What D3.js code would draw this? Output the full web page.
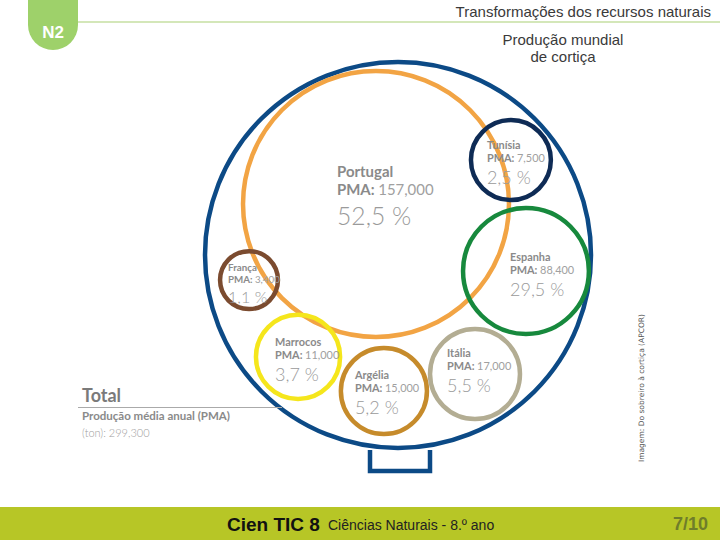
<!DOCTYPE html>
<html>
<head>
<meta charset="utf-8">
<title>Produção mundial de cortiça</title>
<script src="https://cdn.jsdelivr.net/npm/d3@7"></script>
<style>
  body { margin: 0; background: #fff; }
  svg { display: block; }
  .head { font: 15px "Liberation Sans", Arial, sans-serif; fill: #3a3a3a; }
  .lbl { font-family: Lato, "Open Sans", sans-serif; fill: #8a8a8a; }
  .name, .pma-k { font-weight: 700; }
  .pma-v { font-weight: 400; fill: #a0a0a0; }
  .pct { font-weight: 300; fill: #9a9a9a; }
</style>
</head>
<body>
<script>
// data
var countries = ["Portugal", "Tunísia", "Espanha", "França", "Marrocos", "Argélia", "Itália"];
var pma = [157000, 7500, 88400, 3400, 11000, 15000, 17000];
var shares = [52.5, 2.5, 29.5, 1.1, 3.7, 5.2, 5.5];
var totalPma = 299300;

// layout of the illustration, in units of the outer circle radius
var bubbleLayout = [
  {cx: -0.114, cy: -0.264, r: 0.689, lx: -39, ly: -27, fs: 1.3, color: "#f2a444"},
  {cx:  0.585, cy: -0.492, r: 0.207, lx: -24, ly: -11, fs: 0.95, color: "#0e2b55"},
  {cx:  0.663, cy:  0.083, r: 0.326, lx: -16, ly: -10, fs: 0.95, color: "#17893d"},
  {cx: -0.772, cy:  0.130, r: 0.150, lx: -21, ly: -9,  fs: 0.85, color: "#7b4b2f"},
  {cx: -0.518, cy:  0.528, r: 0.218, lx: -23, ly: -11, fs: 0.95, color: "#f5e61c"},
  {cx: -0.073, cy:  0.705, r: 0.223, lx: -29, ly: -12, fs: 0.95, color: "#c68b2b"},
  {cx:  0.399, cy:  0.617, r: 0.233, lx: -28, ly: -17, fs: 0.95, color: "#b3ad93"}
];

var width = 720, height = 540;
var outer = {x: 398, y: 255, r: 193};
var blue = "#0c4a86";

var pt = d3.formatLocale({decimal: ",", thousands: ",", grouping: [3], currency: ["", ""]});
var fmtInt = pt.format(",");
var fmtPct = pt.format(".1f");

var x = d3.scaleLinear().domain([-1, 1]).range([outer.x - outer.r, outer.x + outer.r]);
var y = d3.scaleLinear().domain([-1, 1]).range([outer.y - outer.r, outer.y + outer.r]);
var rs = d3.scaleLinear().domain([0, 1]).range([0, outer.r]);

var svg = d3.select("body").append("svg")
    .attr("width", width)
    .attr("height", height);

// header
svg.append("line")
    .attr("x1", 60).attr("x2", width).attr("y1", 22).attr("y2", 22)
    .attr("stroke", "#a9cf74").attr("stroke-width", 1.2);
svg.append("path")
    .attr("d", "M28,0 L78,0 L78,25 A25,25 0 0 1 28,25 Z")
    .attr("fill", "#9ed16a");
svg.append("text")
    .attr("x", 53).attr("y", 38)
    .attr("text-anchor", "middle")
    .attr("fill", "#fff")
    .style("font", "bold 17px 'Liberation Sans', Arial, sans-serif")
    .text("N2");
svg.append("text").attr("class", "head")
    .attr("x", 711).attr("y", 17).attr("text-anchor", "end")
    .text("Transformações dos recursos naturais");
svg.append("text").attr("class", "head")
    .attr("x", 563).attr("y", 45).attr("text-anchor", "middle")
    .text("Produção mundial");
svg.append("text").attr("class", "head")
    .attr("x", 563).attr("y", 62).attr("text-anchor", "middle")
    .text("de cortiça");

// stand under the big circle
svg.append("path")
    .attr("d", "M370,450 L370,471 L430,471 L430,450")
    .attr("fill", "none").attr("stroke", blue).attr("stroke-width", 4.5);

svg.append("circle")
    .attr("cx", outer.x).attr("cy", outer.y).attr("r", outer.r)
    .attr("fill", "#fff").attr("stroke", blue).attr("stroke-width", 4.5);

var rows = countries.map(function(c, i) {
  return {name: c, pma: pma[i], share: shares[i], lay: bubbleLayout[i]};
});

svg.append("g").selectAll("circle")
  .data(rows)
  .enter().append("circle")
    .attr("cx", function(d) { return x(d.lay.cx); })
    .attr("cy", function(d) { return y(d.lay.cy); })
    .attr("r", function(d) { return rs(d.lay.r); })
    .attr("fill", "none")
    .attr("stroke", function(d) { return d.lay.color; })
    .attr("stroke-width", 4.5);

var lbl = svg.append("g").selectAll("g")
  .data(rows)
  .enter().append("g")
    .attr("class", "lbl")
    .attr("transform", function(d) {
      return "translate(" + (x(d.lay.cx) + d.lay.lx) + "," + (y(d.lay.cy) + d.lay.ly) + ")";
    });

lbl.append("text").attr("class", "name")
    .style("font-size", function(d) { return 11.5 * d.lay.fs + "px"; })
    .text(function(d) { return d.name; });

var pl = lbl.append("text")
    .attr("y", function(d) { return 14 * d.lay.fs; })
    .style("font-size", function(d) { return 11.5 * d.lay.fs + "px"; });
pl.append("tspan").attr("class", "pma-k").text("PMA: ");
pl.append("tspan").attr("class", "pma-v").text(function(d) { return fmtInt(d.pma); });

lbl.append("text").attr("class", "pct")
    .attr("y", function(d) { return 37 * d.lay.fs; })
    .style("font-size", function(d) { return 19 * d.lay.fs + "px"; })
    .text(function(d) { return fmtPct(d.share) + " %"; });

// total block
var tot = svg.append("g").attr("class", "lbl");
tot.append("text").attr("class", "name")
    .attr("x", 82).attr("y", 402)
    .style("font-size", "18px").style("fill", "#7a7a7a")
    .text("Total");
tot.append("line")
    .attr("x1", 78).attr("x2", 282).attr("y1", 407.5).attr("y2", 407.5)
    .attr("stroke", "#aaa").attr("stroke-width", 1);
tot.append("text").attr("class", "name")
    .attr("x", 82).attr("y", 420)
    .style("font-size", "11.5px")
    .text("Produção média anual (PMA)");
tot.append("text").attr("class", "pma-v")
    .attr("x", 82).attr("y", 437)
    .style("font-size", "11px").style("font-weight", 300)
    .text("(ton): " + fmtInt(totalPma));

// credit
svg.append("text")
    .attr("transform", "translate(644,462) rotate(-90)")
    .attr("fill", "#555")
    .style("font", "7.5px 'DejaVu Sans', sans-serif")
    .text("Imagem: Do sobreiro à cortiça (APCOR)");

// footer
svg.append("rect")
    .attr("x", 0).attr("y", 507).attr("width", width).attr("height", 33)
    .attr("fill", "#b7c626");
svg.append("text")
    .attr("x", 227).attr("y", 531)
    .style("font", "bold 19px 'Liberation Sans', Arial, sans-serif")
    .attr("fill", "#111")
    .text("Cien TIC 8");
svg.append("text")
    .attr("x", 328).attr("y", 530)
    .style("font", "14px 'Liberation Sans', Arial, sans-serif")
    .attr("fill", "#222")
    .text("Ciências Naturais - 8.º ano");
svg.append("text")
    .attr("x", 708).attr("y", 530).attr("text-anchor", "end")
    .style("font", "bold 18px 'Liberation Sans', Arial, sans-serif")
    .attr("fill", "#6f7d2a")
    .text("7/10");
</script>
</body>
</html>
